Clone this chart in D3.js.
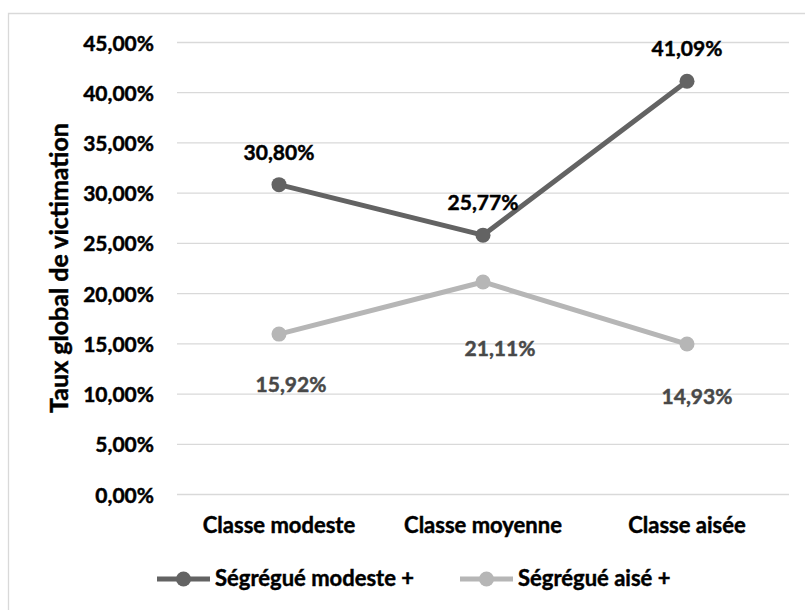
<!DOCTYPE html>
<html><head><meta charset="utf-8">
<script src="https://cdn.jsdelivr.net/npm/d3@7"></script>
<style>
body{margin:0;background:#fff}
svg{display:block}
text{font-family:Lato,"Open Sans",sans-serif;font-weight:700}
</style></head>
<body><svg id="chart" width="805" height="610"></svg>
<script>
// ---- data ----
const categories = ["Classe modeste", "Classe moyenne", "Classe aisée"];
const seriesNames = ["Ségrégué modeste +", "Ségrégué aisé +"];
const modesteValues = [30.80, 25.77, 41.09];
const aiseValues = [15.92, 21.11, 14.93];
const yTickValues = [0, 5, 10, 15, 20, 25, 30, 35, 40, 45];
const yTitle = "Taux global de victimation";

// ---- layout / style ----
const W = 805, H = 610;
const plot = {left: 177, right: 789, top: 42, bottom: 494};
const colors = ["#636363", "#b6b6b6"];
const labelColors = ["#000000", "#484848"];
const fs = 21, fsCat = 22, fsTitle = 25;
// manual label placement (dx, dy relative to point)
const labelOffsets = [
  [[0, -25], [0, -25], [0, -25]],
  [[12, 58], [17, 74], [10, 60]]
];

const svg = d3.select("#chart");
svg.append("rect").attr("width", W).attr("height", H).attr("fill", "#fff");
// frame
svg.append("path").attr("d", `M8.5,${H}V13.5H${W}`).attr("fill", "none")
  .attr("stroke", "#d9d9d9").attr("stroke-width", 1.3);

const fmt = v => d3.format(".2f")(v).replace(".", ",") + "%";
const bolden = (sel, c) => sel.attr("stroke", c).attr("stroke-width", 0.45).attr("paint-order", "stroke");

const x = d3.scaleBand().domain(categories).range([plot.left, plot.right]);
const y = d3.scaleLinear().domain([0, 45]).range([plot.bottom, plot.top]);
const cx = c => x(c) + x.bandwidth() / 2;

// gridlines
const yAxis = d3.axisLeft(y).tickValues(yTickValues).tickSize(-(plot.right - plot.left))
  .tickFormat(fmt).tickPadding(23);
const ga = svg.append("g").attr("transform", `translate(${plot.left},0)`).call(yAxis);
ga.select(".domain").remove();
ga.selectAll(".tick line").attr("stroke", "#d9d9d9").attr("stroke-width", 1.3);
ga.selectAll(".tick text").attr("font-size", fs).attr("fill", "#000")
  .attr("dy", 8).attr("font-family", null).call(bolden, "#000");

// x axis labels
const xAxis = d3.axisBottom(x).tickSize(0).tickPadding(0);
const gx = svg.append("g").attr("transform", `translate(0,${plot.bottom})`).call(xAxis);
gx.select(".domain").remove();
gx.selectAll(".tick text").attr("font-size", fsCat).attr("fill", "#000")
  .attr("dy", null).attr("y", 39).attr("font-family", null).call(bolden, "#000");

// y title
svg.append("text").attr("transform", `translate(68,${(plot.top + plot.bottom) / 2}) rotate(-90)`)
  .attr("text-anchor", "middle").attr("font-size", fsTitle).attr("fill", "#000").text(yTitle)
  .call(bolden, "#000");

// series
const series = [modesteValues, aiseValues];
const line = d3.line().x((d, i) => cx(categories[i])).y(d => y(d));
[1, 0].forEach(si => {
  const vals = series[si];
  const g = svg.append("g");
  g.append("path").attr("d", line(vals)).attr("fill", "none")
    .attr("stroke", colors[si]).attr("stroke-width", 5).attr("stroke-linejoin", "round");
  g.selectAll("circle").data(vals).join("circle")
    .attr("cx", (d, i) => cx(categories[i])).attr("cy", d => y(d)).attr("r", 7.5)
    .attr("fill", colors[si]);
});
[0, 1].forEach(si => {
  svg.append("g").selectAll("text").data(series[si]).join("text")
    .attr("x", (d, i) => cx(categories[i]) + labelOffsets[si][i][0])
    .attr("y", (d, i) => y(d) + labelOffsets[si][i][1])
    .attr("text-anchor", "middle").attr("font-size", fs).attr("fill", labelColors[si])
    .text(d => fmt(d)).call(bolden, labelColors[si]);
});

// legend
const legendItems = [{x: 157, tx: 215}, {x: 460, tx: 518}];
const ly = 579;
seriesNames.forEach((name, i) => {
  const g = svg.append("g");
  g.append("line").attr("x1", legendItems[i].x).attr("x2", legendItems[i].x + 53)
    .attr("y1", ly).attr("y2", ly).attr("stroke", colors[i]).attr("stroke-width", 5);
  g.append("circle").attr("cx", legendItems[i].x + 26.5).attr("cy", ly).attr("r", 7.5).attr("fill", colors[i]);
  g.append("text").attr("x", legendItems[i].tx).attr("y", ly + 7).attr("font-size", fsCat)
    .attr("fill", "#000").text(name).call(bolden, "#000");
});
</script>
</body></html>
